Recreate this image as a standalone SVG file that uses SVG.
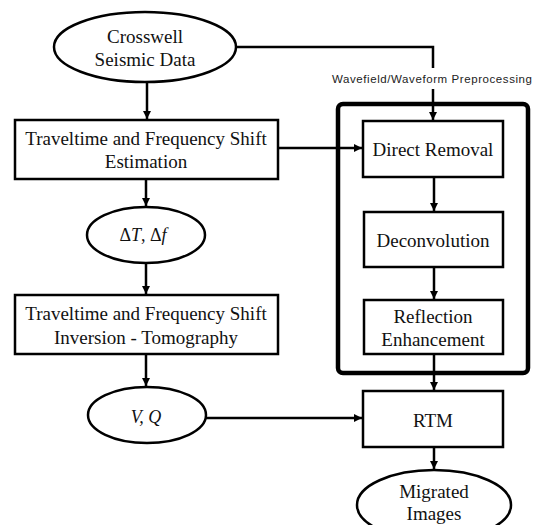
<svg xmlns="http://www.w3.org/2000/svg" width="534" height="525" viewBox="0 0 534 525">
<style>
.n{fill:#fff;stroke:#000;stroke-width:2.5}
.t{font-family:"Liberation Serif",serif;font-size:19px;fill:#111;text-anchor:middle}
.m{font-family:"Liberation Serif",serif;font-size:18px;fill:#111;text-anchor:middle}
.c{fill:none;stroke:#000;stroke-width:2.5}
</style>
<defs>
<marker id="a" markerWidth="10" markerHeight="10" refX="8" refY="4" orient="auto" markerUnits="userSpaceOnUse">
<path d="M0,0 L8,4 L0,8 Z" fill="#000"/>
</marker>
</defs>
<g id="group">
<rect x="338" y="104" width="190" height="269" rx="5" fill="none" stroke="#000" stroke-width="4.5"/>
</g>
<g id="connectors">
<path class="c" d="M147,82 V119" marker-end="url(#a)"/>
<path class="c" d="M236,47 H433 V68"/>
<path class="c" d="M433,89 V120" marker-end="url(#a)"/>
<path class="c" d="M278,148 H362" marker-end="url(#a)"/>
<path class="c" d="M146,179 V206" marker-end="url(#a)"/>
<path class="c" d="M146,263 V294" marker-end="url(#a)"/>
<path class="c" d="M146,354 V386" marker-end="url(#a)"/>
<path class="c" d="M434,177 V211" marker-end="url(#a)"/>
<path class="c" d="M434,267 V299" marker-end="url(#a)"/>
<path class="c" d="M434,354 V390" marker-end="url(#a)"/>
<path class="c" d="M206,418 H362" marker-end="url(#a)"/>
<path class="c" d="M434,447 V469" marker-end="url(#a)"/>
</g>
<text x="432" y="83" font-family="'Liberation Sans',sans-serif" font-size="11.5" fill="#222" text-anchor="middle" textLength="200">Wavefield/Waveform Preprocessing</text>
<g id="crosswell">
<ellipse class="n" cx="145" cy="47" rx="91" ry="35"/>
<text class="t" x="145" y="43">Crosswell</text>
<text class="t" x="145" y="66">Seismic Data</text>
</g>
<g id="estimation">
<rect class="n" x="15" y="120" width="263" height="59"/>
<text class="t" x="146" y="145">Traveltime and Frequency Shift</text>
<text class="t" x="146" y="168">Estimation</text>
</g>
<g id="dtdf">
<ellipse class="n" cx="146" cy="235" rx="59" ry="28"/>
<text class="m" x="143" y="241">Δ<tspan font-style="italic">T</tspan>, Δ<tspan font-style="italic">f</tspan></text>
</g>
<g id="inversion">
<rect class="n" x="15" y="295" width="263" height="59"/>
<text class="t" x="146" y="320">Traveltime and Frequency Shift</text>
<text class="t" x="146" y="344">Inversion - Tomography</text>
</g>
<g id="vq">
<ellipse class="n" cx="147" cy="415" rx="59" ry="28"/>
<text class="m" x="146" y="423" font-style="italic" font-size="19">V, Q</text>
</g>
<g id="direct">
<rect class="n" x="363" y="121" width="140" height="56"/>
<text class="t" x="433" y="156">Direct Removal</text>
</g>
<g id="deconv">
<rect class="n" x="364" y="212" width="139" height="55"/>
<text class="t" x="433" y="247">Deconvolution</text>
</g>
<g id="reflection">
<rect class="n" x="364" y="300" width="139" height="54"/>
<text class="t" x="433" y="323">Reflection</text>
<text class="t" x="433" y="346">Enhancement</text>
</g>
<g id="rtm">
<rect class="n" x="363" y="391" width="140" height="56"/>
<text class="t" x="433" y="427">RTM</text>
</g>
<g id="migrated">
<ellipse class="n" cx="434" cy="505" rx="77" ry="35"/>
<text class="t" x="434" y="498">Migrated</text>
<text class="t" x="434" y="520">Images</text>
</g>
</svg>
